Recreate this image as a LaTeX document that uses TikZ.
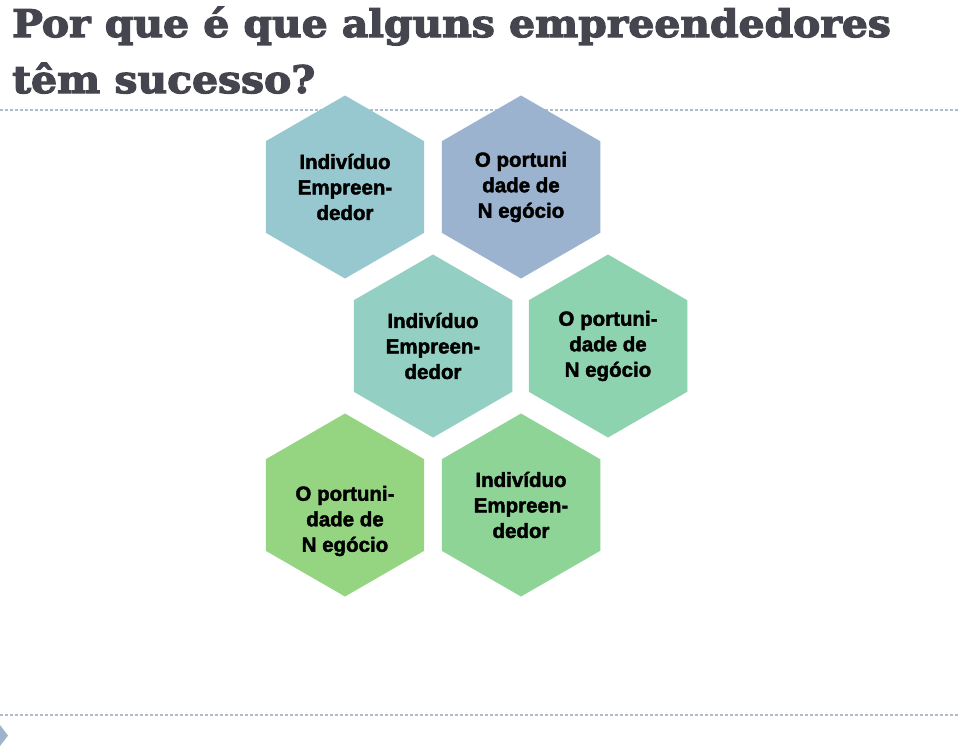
\documentclass[tikz,border=0pt]{standalone}
\usepackage{fontspec}
\setmainfont{Liberation Sans}
\newfontfamily\titlefont{DejaVu Serif}
\usetikzlibrary{shapes.geometric}
\definecolor{titlegrey}{HTML}{45454F}
\definecolor{dashc}{HTML}{AFBCCA}
\definecolor{hexA}{HTML}{98C8CF}
\definecolor{hexB}{HTML}{9BB3CE}
\definecolor{hexC}{HTML}{93CFC3}
\definecolor{hexD}{HTML}{8ED3B0}
\definecolor{hexE}{HTML}{95D582}
\definecolor{hexF}{HTML}{8ED497}
\definecolor{markc}{HTML}{9FB4CC}
\newcommand{\heavytxt}[2]{\special{pdf:literal direct 2 Tr #1 w}#2\special{pdf:literal direct 0 Tr 1 w}}
\tikzset{
  hexbox/.style={regular polygon, regular polygon sides=6, shape border rotate=30,
    minimum size=183pt, inner sep=0pt, draw=none},
  hextext/.style={align=center, font=\fontsize{20.5}{25.5}\selectfont\bfseries, text=black, inner sep=0pt},
  sepline/.style={draw=dashc, line width=1.3pt, dash pattern=on 3pt off 2pt},
  titletext/.style={anchor=base west, inner sep=0pt, text=titlegrey,
    font=\titlefont\bfseries\fontsize{38}{44}\selectfont}
}
\begin{document}
\begin{tikzpicture}[x=1pt,y=-1pt]
\useasboundingbox (0,0) rectangle (960,748);
\fill[white] (0,0) rectangle (960,748);
\node[titletext] (t1) at (12,37) {\scalebox{1.075}[1]{\heavytxt{1.2}{Por que é que alguns empreendedores}}};
\node[titletext] (t2) at (12,93) {\scalebox{1.075}[1]{\heavytxt{1.2}{têm sucesso?}}};
\coordinate (l1a) at (0,110); \coordinate (l1b) at (960,110);
\draw[sepline] (l1a) -- (l1b);
\coordinate (l2a) at (0,715); \coordinate (l2b) at (960,715);
\draw[sepline] (l2a) -- (l2b);
\fill[markc] (0,725) -- (8,735.5) -- (0,746) -- cycle;

\node[hexbox, fill=hexA] (h1) at (345,187) {};
\node[hexbox, fill=hexB] (h2) at (521,187) {};
\node[hexbox, fill=hexC] (h3) at (433,346) {};
\node[hexbox, fill=hexD] (h4) at (608,346) {};
\node[hexbox, fill=hexE] (h5) at (345,505) {};
\node[hexbox, fill=hexF] (h6) at (521,505) {};

\node[hextext] (x1) at (h1.center) {\heavytxt{0.4}{Indivíduo}\\\heavytxt{0.4}{Empreen-}\\\heavytxt{0.4}{dedor}};
\node[hextext] (x2) at (h2.center) {\heavytxt{0.4}{O portuni}\\\heavytxt{0.4}{dade de}\\\heavytxt{0.4}{N egócio}};
\node[hextext] (x3) at (433,346) {\heavytxt{0.4}{Indivíduo}\\\heavytxt{0.4}{Empreen-}\\\heavytxt{0.4}{dedor}};
\node[hextext] (x4) at (608,346) {\heavytxt{0.4}{O portuni-}\\\heavytxt{0.4}{dade de}\\\heavytxt{0.4}{N egócio}};
\node[hextext] (x5) at (345,521) {\heavytxt{0.4}{O portuni-}\\\heavytxt{0.4}{dade de}\\\heavytxt{0.4}{N egócio}};
\node[hextext] (x6) at (521,505) {\heavytxt{0.4}{Indivíduo}\\\heavytxt{0.4}{Empreen-}\\\heavytxt{0.4}{dedor}};
\end{tikzpicture}
\end{document}
